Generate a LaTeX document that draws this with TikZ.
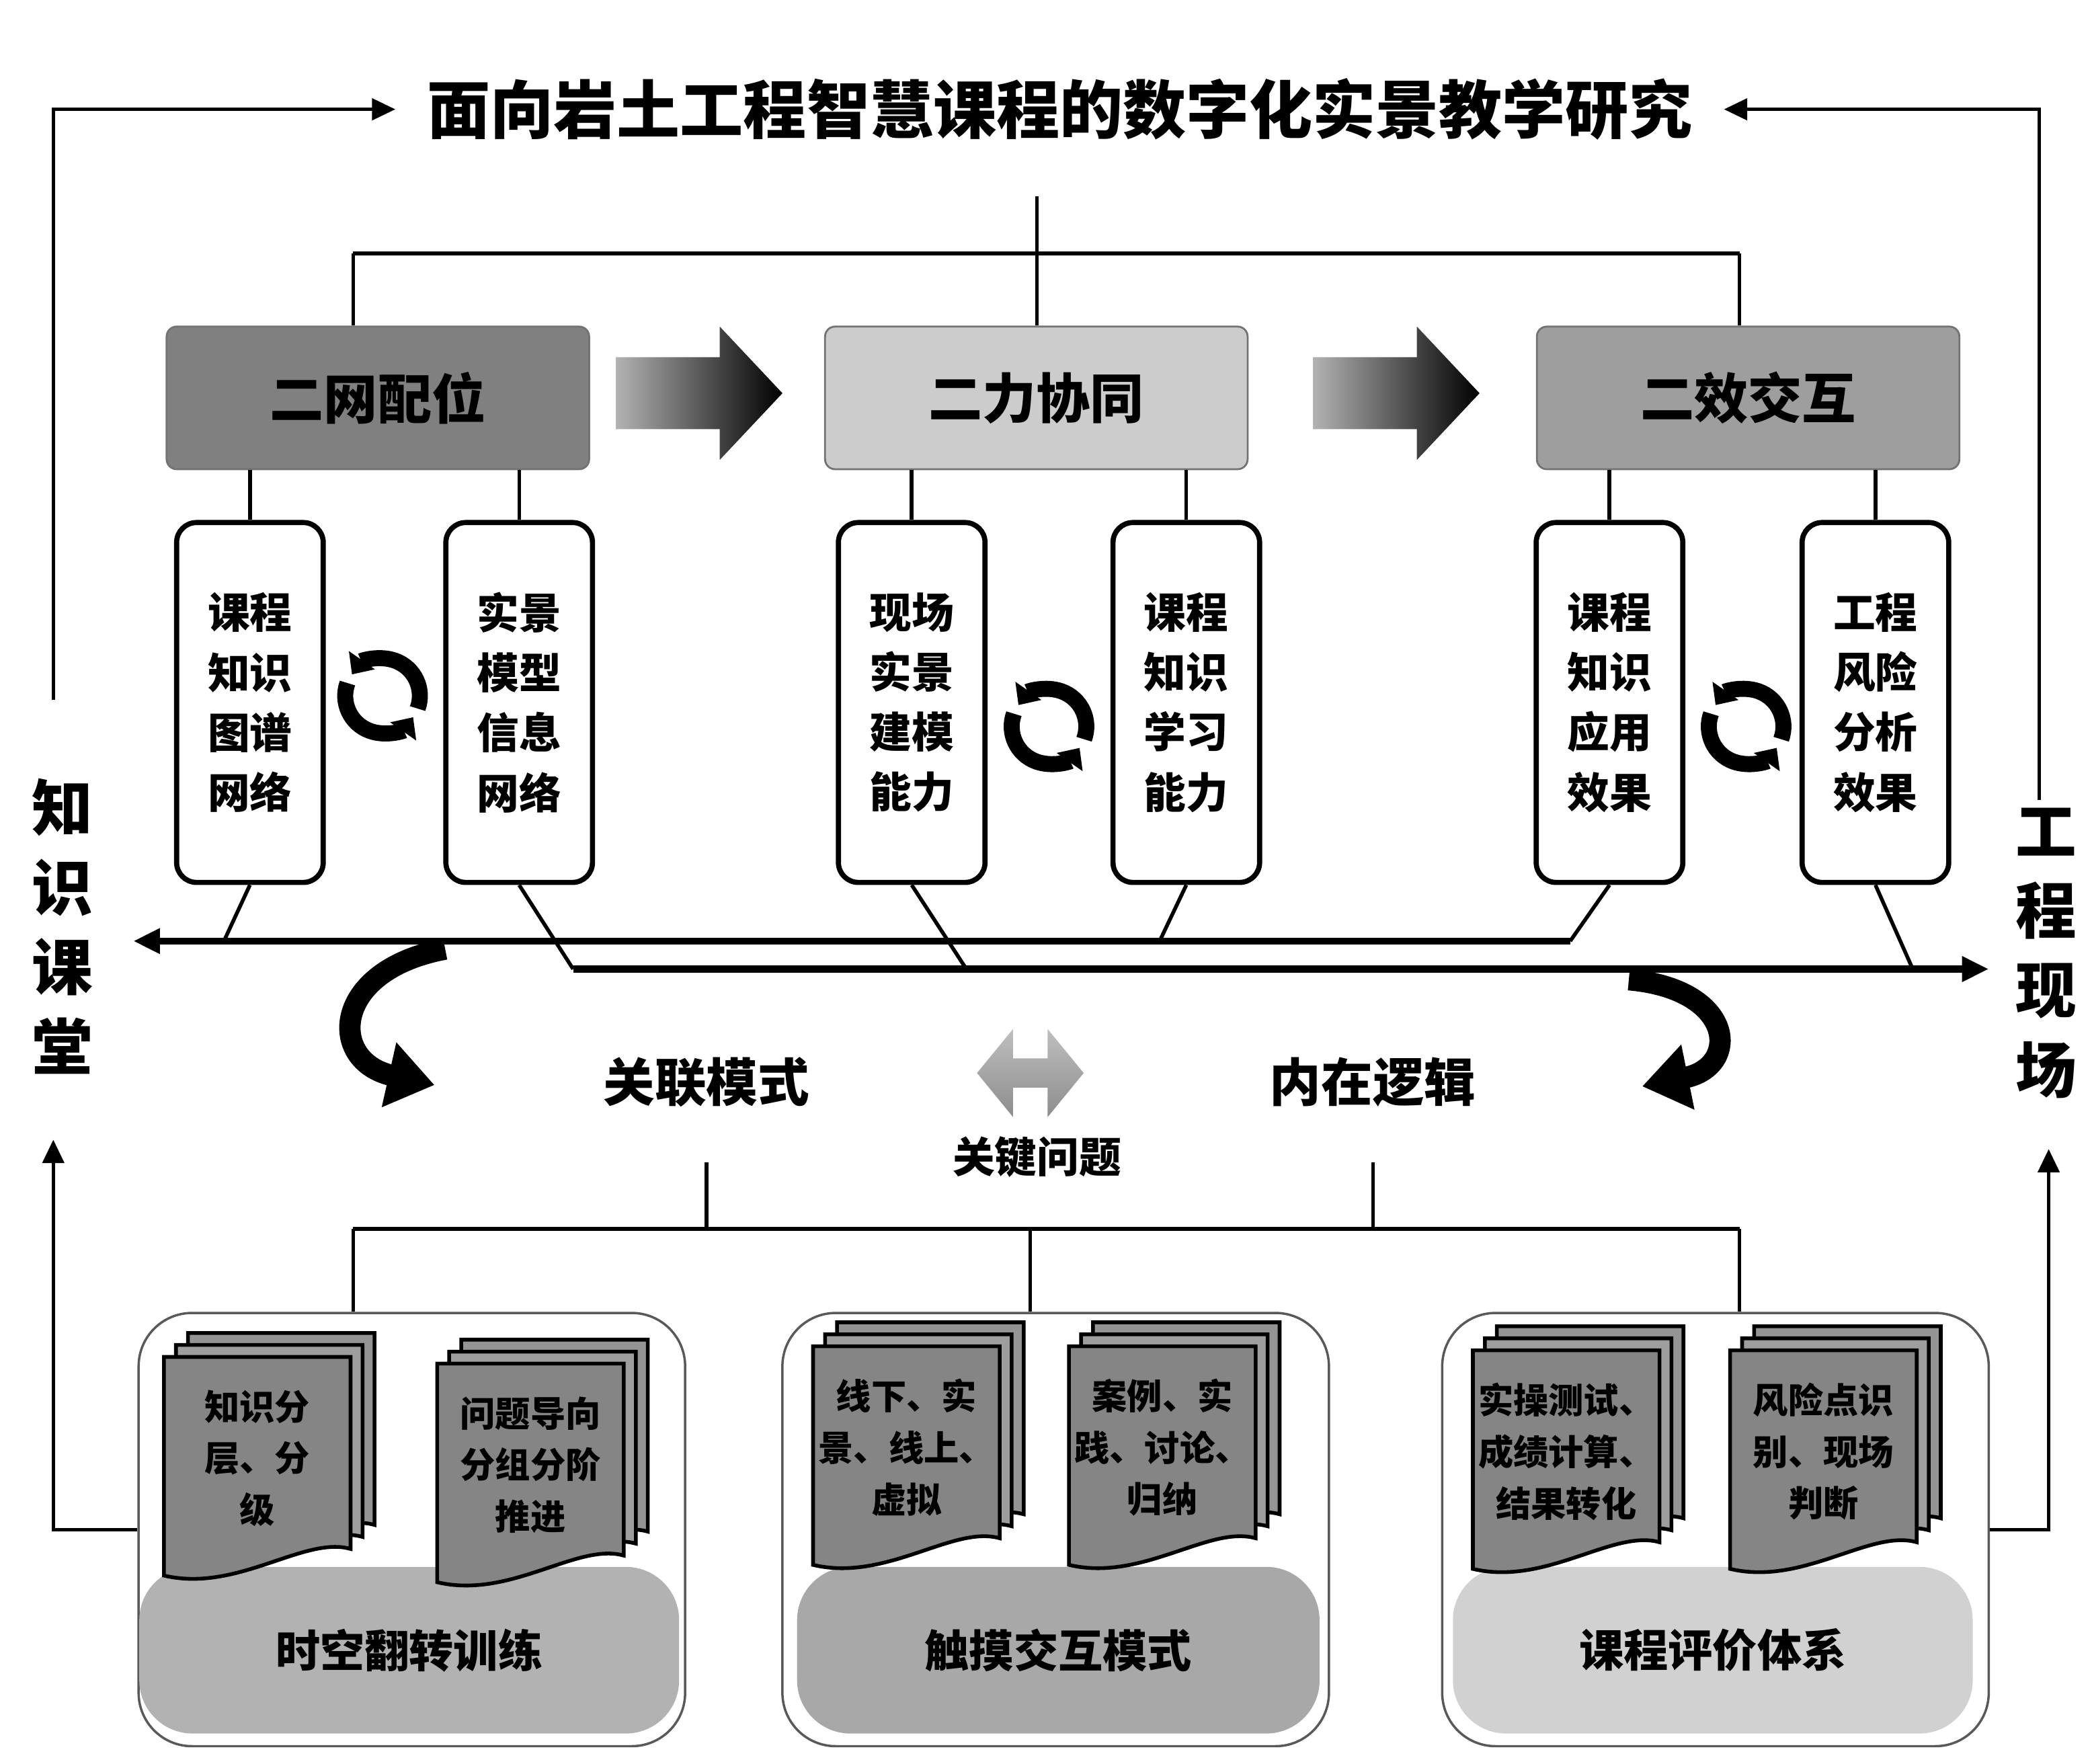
\documentclass[tikz,border=0pt]{standalone}
\usepackage{fontspec}
\newfontfamily\cjk{Noto Sans CJK SC}
\usetikzlibrary{arrows.meta,calc}
\newcommand{\mydocpage}[3]{%
  \filldraw[fill=#3,draw=black,line width=1.6pt] (#1-70,#2-82) -- (#1+70,#2-82) -- (#1+70,#2+62) .. controls (#1+35,#2+52) and (#1-15,#2+95) .. (#1-70,#2+82) -- cycle;}
\newcommand{\mydocstack}[4]{%
  \mydocpage{#2+18}{#3-18}{black!42}
  \mydocpage{#2+9}{#3-9}{black!38}
  \mydocpage{#2}{#3}{black!48}
  \node[doctext] (#1) at (#2,#3-6) {#4};}
\begin{document}
\begin{tikzpicture}[x=0.2mm,y=-0.2mm,
  conn/.style={draw=black,line width=1.6pt},
  bus/.style={draw=black,line width=3pt},
  tip/.style={-{Triangle[length=3.5mm,width=3.2mm]}},
  topbox/.style={rectangle,rounded corners=1.5mm,minimum width=63.4mm,minimum height=21.4mm,draw=black!55,line width=0.8pt,font=\cjk\bfseries\fontsize{23}{27}\selectfont},
  subbox/.style={rectangle,rounded corners=3mm,minimum width=22mm,minimum height=54mm,draw=black,line width=2.2pt,fill=white,align=center,font=\cjk\bfseries\fontsize{18}{25.6}\selectfont},
  sidelabel/.style={align=center,font=\cjk\bfseries\fontsize{26}{34}\selectfont},
  midlabel/.style={font=\cjk\bfseries\fontsize{22}{26}\selectfont},
  container/.style={rectangle,rounded corners=8mm,minimum width=82mm,minimum height=65mm,draw=black!65,line width=1pt,fill=white},
  pill/.style={rectangle,rounded corners=8mm,minimum height=25mm,font=\cjk\bfseries\fontsize{19}{23}\selectfont},
  doctext/.style={align=center,font=\cjk\bfseries\fontsize{15}{22}\selectfont},
  ring/.style={line width=2.4mm,-{Triangle[length=2.6mm,width=4.6mm]}},
  crescent/.style={line width=3.2mm,-{Triangle[length=7mm,width=9.5mm]}}
]
\useasboundingbox (0,0) rectangle (1568,1323);
\fill[white] (0,0) rectangle (1568,1323);

% title
\node[font=\cjk\bfseries\fontsize{27}{31}\selectfont,minimum width=199.2mm,minimum height=26mm] (title) at (795,82) {面向岩土工程智慧课程的数字化实景教学研究};

% top boxes
\node[topbox,fill=black!50] (tb1) at (283.5,298.5) {二网配位};
\node[topbox,fill=black!20] (tb2) at (777.5,298.5) {二力协同};
\node[topbox,fill=black!38] (tb3) at (1311.5,298.5) {二效交互};

% big arrows between top boxes
\shade[left color=black!30,right color=black] (462,268) -- (540,268) -- (540,245) -- (587,295) -- (540,345) -- (540,322) -- (462,322) -- cycle;
\shade[left color=black!30,right color=black] (985,268) -- (1063,268) -- (1063,245) -- (1110,295) -- (1063,345) -- (1063,322) -- (985,322) -- cycle;

% title tree
\coordinate (tl) at (265,190);
\coordinate (tm) at (778,190);
\coordinate (tr) at (1305,190);
\draw[conn] (title.south -| tm) -- (tm);
\draw[conn] (tl) -- (tr);
\draw[conn] (tl) -- (tl |- tb1.north);
\draw[conn] (tm) -- (tm |- tb2.north);
\draw[conn] (tr) -- (tr |- tb3.north);

% sub boxes
\node[subbox] (s1a) at (187.5,527) {课程\\知识\\图谱\\网络};
\node[subbox] (s1b) at (389.5,527) {实景\\模型\\信息\\网络};
\node[subbox] (s2a) at (684,527) {现场\\实景\\建模\\能力};
\node[subbox] (s2b) at (890,527) {课程\\知识\\学习\\能力};
\node[subbox] (s3a) at (1207.5,527) {课程\\知识\\应用\\效果};
\node[subbox] (s3b) at (1407,527) {工程\\风险\\分析\\效果};

\foreach \s/\t in {s1a/tb1,s1b/tb1,s2a/tb2,s2b/tb2,s3a/tb3,s3b/tb3}
  \draw[conn] (\s.north) -- (\s.north |- \t.south);

% ring arrows
\coordinate (r1) at (287,522);
\coordinate (r2) at (787,545);
\coordinate (r3) at (1310,545);
\foreach \r in {r1,r2,r3}{
  \draw[ring] ([shift={(160:5.6mm)}]\r) arc[start angle=160,end angle=325,radius=5.6mm];
  \draw[ring] ([shift={(340:5.6mm)}]\r) arc[start angle=340,end angle=505,radius=5.6mm];
}

% bus lines
\coordinate (la-l) at (100,706);
\coordinate (la-r) at (1178,706);
\coordinate (lb-l) at (430,727);
\coordinate (lb-r) at (1492,727);
\draw[bus,-{Triangle[length=4mm,width=3.6mm]}] (la-r) -- (la-l);
\draw[bus,-{Triangle[length=4mm,width=3.6mm]}] (lb-l) -- (lb-r);
\draw[conn] (s1a.south) -- (168,706);
\draw[conn] (s1b.south) -- (lb-l);
\draw[conn] (s2a.south) -- (725,727);
\draw[conn] (s2b.south) -- (870,706);
\draw[conn] (s3a.south) -- (la-r);
\draw[conn] (s3b.south) -- (1435,727);

% side labels
\node[sidelabel] (kl) at (47,695) {知\\识\\课\\堂};
\node[sidelabel] (gl) at (1535,715) {工\\程\\现\\场};

% outer loop
\coordinate (kt) at (40,525);
\coordinate (gt) at (1530,600);
\draw[conn,tip] (kt) |- (title.west);
\draw[conn,tip] (gt) |- (title.east);

% crescent arrows
\coordinate (cl1) at (334,712);
\coordinate (cl2) at (326,814);
\coordinate (cr1) at (1222,735);
\coordinate (cr2) at (1232,815);
\draw[crescent] (cl1) .. controls (248,728) and (246,796) .. (cl2);
\draw[crescent] (cr1) .. controls (1302,742) and (1306,800) .. (cr2);

% middle labels
\node[midlabel] (rel) at (530,812) {关联模式};
\node[midlabel] (logic) at (1030,812) {内在逻辑};
\node[font=\cjk\bfseries\fontsize{18}{22}\selectfont] (key) at (778,868) {关键问题};
\shade[top color=black!25,bottom color=black!45] (733,805) -- (760,772) -- (760,794) -- (786,794) -- (786,772) -- (813,805) -- (786,838) -- (786,816) -- (760,816) -- (760,838) -- cycle;

% bottom containers
\node[container] (c1) at (309,1147.5) {};
\node[container] (c2) at (792,1147.5) {};
\node[container] (c3) at (1287,1147.5) {};

% bottom tree
\coordinate (ks1) at (530,872);
\coordinate (ks2) at (1030,872);
\coordinate (bl) at (265,922);
\coordinate (bm) at (773,922);
\coordinate (br) at (1305,922);
\draw[conn] (ks1) -- (ks1 |- bl);
\draw[conn] (ks2) -- (ks2 |- bl);
\draw[conn] (bl) -- (br);
\draw[conn] (bl) -- (bl |- c1.north);
\draw[conn] (bm) -- (bm |- c2.north);
\draw[conn] (br) -- (br |- c3.north);

% outer loop bottom
\coordinate (kb) at (40,855);
\coordinate (gb) at (1537,862);
\draw[conn,tip] (c1.west) -| (kb);
\draw[conn,tip] (c3.east) -| (gb);

% pills
\node[pill,fill=black!30,minimum width=81mm] (p1) at (307,1238) {时空翻转训练};
\node[pill,fill=black!34,minimum width=78.4mm] (p2) at (794,1238) {触摸交互模式};
\node[pill,fill=black!18,minimum width=78mm] (p3) at (1285,1238) {课程评价体系};

% document stacks
\mydocstack{d1}{193}{1100}{知识分\\层、分\\级}
\mydocstack{d2}{398}{1105}{问题导向\\分组分阶\\推进}
\mydocstack{d3}{680}{1092}{线下、实\\景、线上、\\虚拟}
\mydocstack{d4}{872}{1092}{案例、实\\践、讨论、\\归纳}
\mydocstack{d5}{1175}{1095}{实操测试、\\成绩计算、\\结果转化}
\mydocstack{d6}{1368}{1095}{风险点识\\别、现场\\判断}

\end{tikzpicture}
\end{document}
